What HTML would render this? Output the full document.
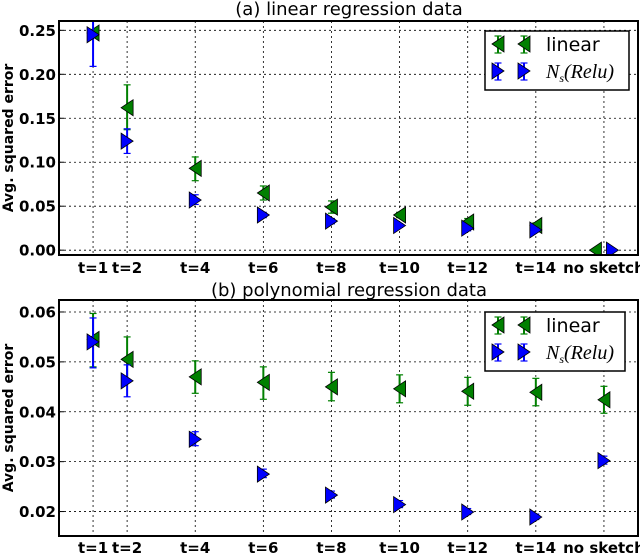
<!DOCTYPE html>
<html><head><meta charset="utf-8"><style>
body{margin:0;background:#fff;}
svg{display:block;font-family:"DejaVu Sans","Liberation Sans",sans-serif;}
</style></head><body>
<svg id="fig" width="640" height="553" viewBox="0 0 640 553" xmlns="http://www.w3.org/2000/svg"></svg>
<script>
const categories = ["t=1","t=2","t=4","t=6","t=8","t=10","t=12","t=14","no sketch"];
const catPos = [1,2,4,6,8,10,12,14,16];
// chart A
const aGreenX = [1,2,4,6,8,10,12,14,15.75];
const aBlueX  = [1,2,4,6,8,10,12,14,16.25];
const aGreen = [0.247,0.162,0.093,0.065,0.049,0.040,0.032,0.028,0.000];
const aGreenLo = [0.243,0.137,0.079,0.057,0.042,0.037,0.028,0.025,0.000];
const aGreenHi = [0.251,0.188,0.106,0.073,0.056,0.043,0.036,0.031,0.000];
const aBlue = [0.245,0.124,0.057,0.040,0.033,0.028,0.025,0.023,0.000];
const aBlueLo = [0.209,0.110,0.052,0.037,0.030,0.026,0.022,0.021,0.000];
const aBlueHi = [0.275,0.138,0.063,0.043,0.036,0.030,0.028,0.026,0.000];
const aTicks = [0.00,0.05,0.10,0.15,0.20,0.25];
const aTickLabels = ["0.00","0.05","0.10","0.15","0.20","0.25"];
// chart B
const bGreenX = [1,2,4,6,8,10,12,14,16];
const bBlueX  = [1,2,4,6,8,10,12,14,16];
const bGreen = [0.0545,0.0505,0.0470,0.0459,0.0450,0.0446,0.0441,0.0439,0.0424];
const bGreenLo = [0.0490,0.0460,0.0437,0.0425,0.0422,0.0418,0.0413,0.0412,0.0397];
const bGreenHi = [0.0597,0.0550,0.0502,0.0490,0.0479,0.0474,0.0469,0.0467,0.0451];
const bBlue = [0.0540,0.0462,0.0345,0.0275,0.0233,0.0214,0.0199,0.0189,0.0302];
const bBlueLo = [0.0488,0.0430,0.0332,0.0268,0.0227,0.0208,0.0194,0.0184,0.0295];
const bBlueHi = [0.0588,0.0494,0.0360,0.0285,0.0241,0.0222,0.0206,0.0195,0.0311];
const bTicks = [0.02,0.03,0.04,0.05,0.06];
const bTickLabels = ["0.02","0.03","0.04","0.05","0.06"];

const NS="http://www.w3.org/2000/svg";
const svg=document.getElementById('fig');
function mk(tag,attrs,parent,text){const e=document.createElementNS(NS,tag);for(const k in attrs)e.setAttribute(k,attrs[k]);if(text!==undefined)e.textContent=text;(parent||svg).appendChild(e);return e;}

function tri(g,x,y,dir,color){
  const w=6,h=8;
  const pts = dir<0 ? `${x-w},${y} ${x+w},${y-h} ${x+w},${y+h}` : `${x+w},${y} ${x-w},${y-h} ${x-w},${y+h}`;
  return mk('polygon',{points:pts,fill:color,stroke:'#000','stroke-width':0.8},g);
}
function errbar(g,x,ylo,yhi,color){
  mk('line',{x1:x,y1:ylo,x2:x,y2:yhi,stroke:color,'stroke-width':2},g);
  mk('line',{x1:x-3.5,y1:ylo,x2:x+3.5,y2:ylo,stroke:color,'stroke-width':1.2},g);
  mk('line',{x1:x-3.5,y1:yhi,x2:x+3.5,y2:yhi,stroke:color,'stroke-width':1.2},g);
}

function chart(o){
  const L=59,R=638,T=o.top,B=o.bottom;
  const xs=v=>L+(v-0)/(17-0)*(R-L);
  const ys=v=>B-(v-o.ymin)/(o.ymax-o.ymin)*(B-T);
  const g=mk('g',{},svg);
  
  
  const t=mk('text',{x:349,y:o.titleY,'text-anchor':'middle','font-size':18},g,o.title);
  
  
  const cp=mk('clipPath',{id:'c'+o.name},g);
  mk('rect',{x:L,y:T,width:R-L,height:B-T},cp);
  const grid=mk('g',{stroke:'#000','stroke-width':0.8,'stroke-dasharray':'2,3'},g);
  
  
  o.ticks.forEach((v,i)=>{
    mk('line',{x1:L,x2:R,y1:ys(v),y2:ys(v)},grid);
    const tl=mk('text',{x:L-3,y:ys(v)+5.5,'text-anchor':'end','font-size':15,'font-weight':'bold'},g,o.tickLabels[i]);
    
    
    mk('line',{x1:L,x2:L+5,y1:ys(v),y2:ys(v),stroke:'#000'},g);
  });
  catPos.forEach((v,i)=>{
    mk('line',{x1:xs(v),x2:xs(v),y1:T,y2:B},grid);
    const xl=mk('text',{x:xs(v),y:o.xlabY,'text-anchor':'middle','font-size':15,'font-weight':'bold'},g,categories[i]);
    
    
  });
  const yl=mk('text',{x:0,y:0,transform:`translate(13,${(T+B)/2}) rotate(-90)`,'text-anchor':'middle','font-size':14,'font-weight':'bold'},g,'Avg. squared error');
  
  
  const pg=mk('g',{'clip-path':`url(#c${o.name})`},g);
  const gs=mk('g',{},pg);
  
  
  o.g.forEach((v,i)=>{errbar(gs,xs(o.gx[i]),ys(o.glo[i]),ys(o.ghi[i]),'#008000');const m=tri(gs,xs(o.gx[i]),ys(v),-1,'#008000');});
  const bs=mk('g',{},pg);
  
  
  o.b.forEach((v,i)=>{errbar(bs,xs(o.bx[i]),ys(o.blo[i]),ys(o.bhi[i]),'#0000ff');const m=tri(bs,xs(o.bx[i]),ys(v),1,'#0000ff');});
  const fr=mk('rect',{x:L,y:T,width:R-L,height:B-T,fill:'none',stroke:'#000','stroke-width':2},g);
  
  
  // legend
  const lg=mk('g',{},g);
  
  
  const ly=o.legY;
  mk('rect',{x:485,y:ly,width:o.legW,height:59,fill:'#fff',stroke:'#000','stroke-width':1.5},lg);
  [498,524].forEach(x=>{errbar(lg,x,ly+5,ly+22,'#008000');tri(lg,x,ly+13,-1,'#008000');});
  [498,524].forEach(x=>{errbar(lg,x,ly+32,ly+49,'#0000ff');tri(lg,x,ly+40,1,'#0000ff');});
  const e1=mk('text',{x:546,y:ly+20,'font-size':19},lg,'linear');
  
  
  const e2=mk('text',{x:546,y:ly+47,'font-size':20,'font-style':'italic','font-family':'Liberation Serif, serif'},lg);
  
  
  e2.innerHTML='N<tspan font-size="12" dy="4">s</tspan><tspan dy="-4">(Relu)</tspan>';
}
chart({name:'chart-linear',title:'(a) linear regression data',titleY:15,top:21,bottom:255,ymin:-0.0055,ymax:0.2606,xlabY:273,
  ticks:aTicks,tickLabels:aTickLabels,g:aGreen,glo:aGreenLo,ghi:aGreenHi,gx:aGreenX,b:aBlue,blo:aBlueLo,bhi:aBlueHi,bx:aBlueX,legY:31,legW:144});
chart({name:'chart-polynomial',title:'(b) polynomial regression data',titleY:296,top:300,bottom:536,ymin:0.0151,ymax:0.0624,xlabY:553,
  ticks:bTicks,tickLabels:bTickLabels,g:bGreen,glo:bGreenLo,ghi:bGreenHi,gx:bGreenX,b:bBlue,blo:bBlueLo,bhi:bBlueHi,bx:bBlueX,legY:312,legW:140});
</script>
</body></html>
